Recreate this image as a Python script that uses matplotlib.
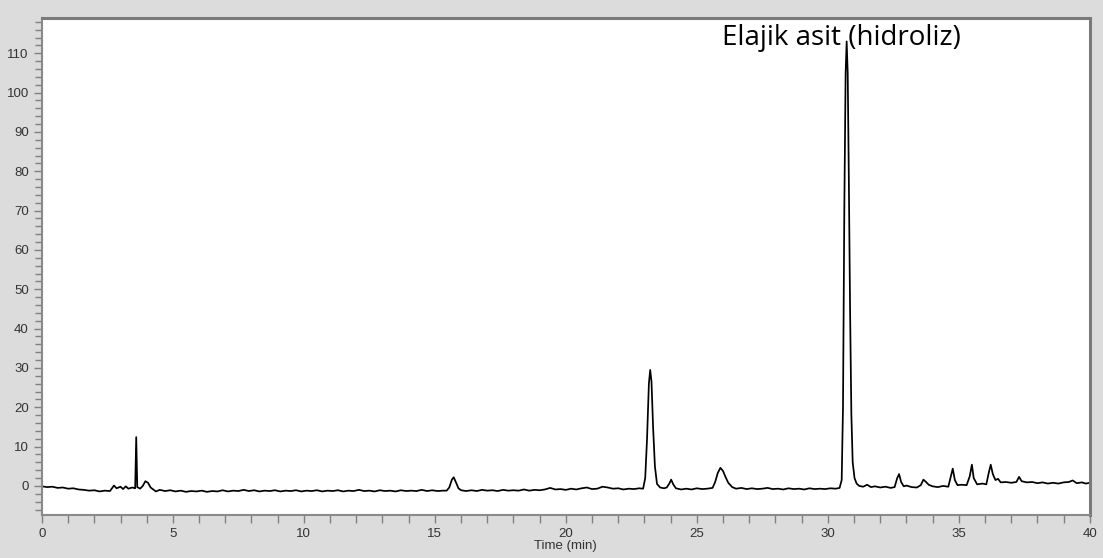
import matplotlib
matplotlib.use("Agg")
import matplotlib.pyplot as plt
from matplotlib.ticker import MultipleLocator

# chromatogram trace (time in min, signal)
time_min = [
    0.0, 0.2, 0.4, 0.6, 0.8, 1.0, 1.2, 1.4, 1.6, 1.8, 2.0, 2.2, 2.4, 2.6,
    2.75, 2.85, 3.0, 3.1, 3.2, 3.3, 3.45, 3.56, 3.6, 3.64, 3.75, 3.85, 3.95,
    4.05, 4.15, 4.25, 4.35, 4.5,
    4.7, 4.9, 5.1, 5.3, 5.5, 5.7, 5.9, 6.1, 6.3, 6.5, 6.7, 6.9, 7.1, 7.3,
    7.5, 7.7, 7.9, 8.1, 8.3, 8.5, 8.7, 8.9, 9.1, 9.3, 9.5, 9.7, 9.9, 10.1,
    10.3, 10.5, 10.7, 10.9, 11.1, 11.3, 11.5, 11.7, 11.9, 12.1, 12.3, 12.5,
    12.7, 12.9, 13.1, 13.3, 13.5, 13.7, 13.9, 14.1, 14.3, 14.5, 14.7, 14.9,
    15.1, 15.3, 15.45, 15.55, 15.65, 15.72, 15.8, 15.9, 16.0,
    16.2, 16.4, 16.6, 16.8, 17.0, 17.2, 17.4, 17.6, 17.8, 18.0, 18.2, 18.4,
    18.6, 18.8, 19.0, 19.2, 19.4, 19.6, 19.8, 20.0, 20.2, 20.4, 20.6, 20.8,
    21.0, 21.2, 21.4, 21.6, 21.8, 22.0, 22.2, 22.4, 22.6, 22.8, 22.95,
    23.03, 23.1, 23.17, 23.22, 23.27, 23.33, 23.4, 23.48, 23.6, 23.75, 23.85,
    23.95, 24.02, 24.1, 24.2, 24.4, 24.6, 24.8, 25.0, 25.2, 25.4, 25.6,
    25.7, 25.8, 25.9, 26.0, 26.1, 26.2, 26.35, 26.5, 26.7, 26.9, 27.1, 27.3,
    27.5, 27.7, 27.9, 28.1, 28.3, 28.5, 28.7, 28.9, 29.1, 29.3, 29.5, 29.7,
    29.9, 30.1, 30.3, 30.45, 30.53, 30.58, 30.63, 30.68, 30.72, 30.76, 30.8,
    30.85, 30.9, 30.95, 31.02, 31.1, 31.2, 31.35, 31.5, 31.65, 31.8, 32.0,
    32.2, 32.4, 32.55, 32.65, 32.72, 32.8, 32.9, 33.0, 33.2, 33.4, 33.55,
    33.65, 33.75, 33.85, 34.0, 34.2, 34.4, 34.6, 34.7, 34.77, 34.85, 34.95,
    35.1, 35.3, 35.42, 35.5, 35.57, 35.7, 35.9, 36.05, 36.15, 36.22, 36.3,
    36.4, 36.5, 36.6, 36.8, 37.0, 37.2, 37.3, 37.4, 37.6, 37.8, 38.0, 38.2,
    38.4, 38.6, 38.8, 39.0, 39.2, 39.35, 39.5, 39.7, 39.85, 40.0,
]
signal = [
    -0.1, -0.3, -0.2, -0.5, -0.4, -0.7, -0.6, -0.9, -1.0, -1.2, -1.1, -1.4, -1.2, -1.3,
    0.1, -0.6, -0.2, -0.8, -0.1, -0.7, -0.4, -0.6, 12.4, -0.3, -0.7, 0.0, 1.2,
    0.8, -0.4, -0.9, -1.4, -1.0,
    -1.3, -1.1, -1.4, -1.2, -1.5, -1.3, -1.4, -1.2, -1.5, -1.3, -1.4, -1.1, -1.4, -1.2,
    -1.3, -1.0, -1.3, -1.1, -1.4, -1.2, -1.3, -1.1, -1.4, -1.2, -1.3, -1.1, -1.4, -1.2,
    -1.3, -1.1, -1.4, -1.2, -1.3, -1.1, -1.4, -1.2, -1.3, -1.0, -1.3, -1.2,
    -1.4, -1.1, -1.3, -1.2, -1.4, -1.1, -1.3, -1.2, -1.3, -1.0, -1.3, -1.1,
    -1.3, -1.2, -1.2, -0.4, 1.6, 2.2, 1.0, -0.6, -1.1,
    -1.3, -1.1, -1.3, -1.0, -1.2, -1.1, -1.3, -1.0, -1.2, -1.1, -1.2, -0.9,
    -1.2, -1.0, -1.1, -0.9, -0.5, -0.9, -0.8, -1.0, -0.7, -0.9, -0.6, -0.4,
    -0.8, -0.7, -0.2, -0.4, -0.7, -0.6, -0.9, -0.7, -0.8, -0.6, -0.7,
    2.0, 12.0, 26.0, 29.5, 26.5, 15.0, 5.0, 0.5, -0.4, -0.6, -0.4,
    0.6, 1.6, 0.4, -0.6, -0.9, -0.7, -0.9, -0.6, -0.8, -0.7, -0.5,
    1.0, 3.3, 4.6, 3.8, 2.2, 0.8, -0.3, -0.7, -0.5, -0.8, -0.6, -0.8,
    -0.7, -0.5, -0.8, -0.7, -0.9, -0.6, -0.8, -0.7, -0.9, -0.6, -0.8, -0.7,
    -0.8, -0.6, -0.7, -0.5, 1.5, 20.0, 70.0, 105.0, 113.0, 105.0, 80.0,
    45.0, 18.0, 6.0, 2.0, 0.6, 0.0, -0.2, 0.3, -0.3, -0.1, -0.4,
    -0.2, -0.5, -0.3, 2.0, 3.0, 1.0, -0.1, 0.1, -0.3, -0.4, 0.2,
    1.6, 1.0, 0.3, -0.1, -0.3, 0.0, -0.2, 2.5, 4.4, 1.5, 0.2,
    0.3, 0.2, 2.5, 5.4, 2.0, 0.4, 0.6, 0.4, 3.5, 5.4, 3.0,
    1.5, 1.8, 0.9, 1.0, 0.8, 1.0, 2.3, 1.2, 0.9, 1.0, 0.7, 0.9,
    0.6, 0.8, 0.6, 0.9, 1.0, 1.4, 0.7, 0.9, 0.6, 0.8,
]

peak_label = "Elajik asit (hidroliz)"

fig = plt.figure(figsize=(11.03, 5.58), dpi=100, facecolor="#dcdcdc")
ax = fig.add_axes([0.038, 0.077, 0.950, 0.891])
ax.set_facecolor("white")

ax.plot(time_min, signal, color="black", linewidth=1.25)

ax.set_xlim(0, 40)
ax.set_ylim(-7.4, 119)
ax.xaxis.set_major_locator(MultipleLocator(5))
ax.xaxis.set_minor_locator(MultipleLocator(1))
ax.yaxis.set_major_locator(MultipleLocator(10))
ax.yaxis.set_minor_locator(MultipleLocator(2))
ax.tick_params(which="both", direction="out", color="#808080", labelcolor="#333333",
               labelsize=9)
ax.tick_params(axis="x", which="both", length=6, width=1)
ax.tick_params(axis="y", which="major", length=6, width=1)
ax.tick_params(axis="y", which="minor", length=5, width=1)
ax.set_yticks([t for t in range(0, 120, 10)])
for lbl in ax.get_xticklabels() + ax.get_yticklabels():
    lbl.set_family(["Liberation Sans", "DejaVu Sans"])
    lbl.set_fontsize(9.5)

for side in ["top", "right"]:
    ax.spines[side].set_color("#7a7a7a")
    ax.spines[side].set_linewidth(2.2)
for side in ["left", "bottom"]:
    ax.spines[side].set_color("#8a8a8a")
    ax.spines[side].set_linewidth(1.5)

ax.set_xlabel("Time (min)", fontsize=9.5, color="#333333", labelpad=0,
              family=["Liberation Sans", "DejaVu Sans"])

ax.text(25.95, 112.2, peak_label, fontsize=20, family=["Open Sans", "DejaVu Sans"],
        ha="left", va="baseline", color="black")

fig.savefig("out.png", dpi=100, facecolor=fig.get_facecolor())
